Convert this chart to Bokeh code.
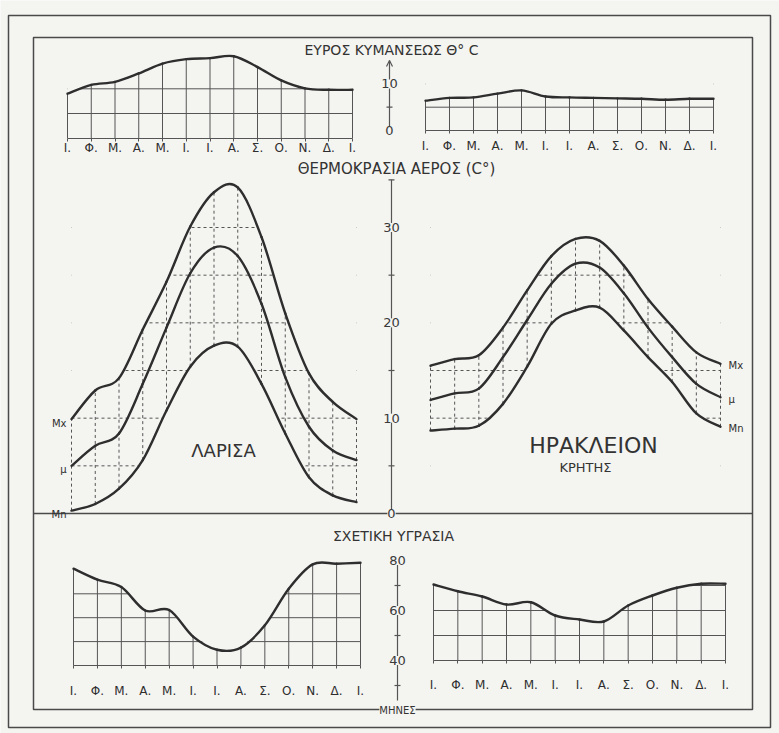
from bokeh.plotting import figure
from bokeh.models import Range1d, LinearAxis, FixedTicker, ColumnDataSource, Arrow, OpenHead
from bokeh.core.properties import value
from bokeh.embed import file_html
from bokeh.resources import INLINE

# ---------------- data ----------------
MONTHS = ["Ι.", "Φ.", "Μ.", "Α.", "Μ.", "Ι.", "Ι.", "Α.", "Σ.", "Ο.", "Ν.", "Δ.", "Ι."]
MONTH_POS = list(range(13))

RANGE_LARISA = [9.0, 10.8, 11.4, 13.1, 15.1, 16.0, 16.2, 16.6, 14.4, 11.7, 10.1, 9.8, 9.8]
RANGE_HERAKLION = [6.4, 7.0, 7.1, 7.9, 8.6, 7.3, 7.1, 7.0, 6.9, 6.8, 6.6, 6.8, 6.8]

TMAX_LARISA = [9.9, 12.9, 14.2, 19.3, 24.3, 30.1, 33.7, 34.2, 29.0, 21.0, 14.7, 11.7, 9.9]
TMEAN_LARISA = [5.0, 7.1, 8.4, 13.6, 19.5, 25.2, 27.9, 27.0, 22.0, 14.3, 9.1, 6.6, 5.6]
TMIN_LARISA = [0.3, 1.0, 2.6, 5.6, 10.8, 15.4, 17.6, 17.5, 13.6, 8.4, 3.8, 1.9, 1.2]

TMAX_HERAKLION = [15.5, 16.2, 16.6, 19.5, 23.4, 27.0, 28.8, 28.6, 26.0, 22.5, 19.6, 16.9, 15.7]
TMEAN_HERAKLION = [11.9, 12.6, 13.1, 16.4, 20.3, 24.1, 26.2, 25.8, 23.1, 19.5, 16.4, 13.6, 12.2]
TMIN_HERAKLION = [8.7, 8.9, 9.2, 11.5, 15.4, 19.9, 21.3, 21.6, 19.2, 16.4, 13.8, 10.5, 9.1]

HUM_LARISA = [80.5, 75.9, 72.8, 63.0, 63.2, 52.1, 46.6, 47.5, 56.8, 72.1, 82.3, 82.6, 83.0]
HUM_HERAKLION = [70.4, 67.7, 65.6, 62.4, 63.3, 58.0, 56.4, 55.6, 62.0, 66.0, 69.1, 70.7, 70.7]

RANGE_GRID = [5, 10]
TEMP_GRID = [5, 10, 15, 20, 25, 30]
HUM_GRID = [50, 60, 70]

RANGE_AXIS_LABELS = [0, 10]
RANGE_AXIS_TICKS = [5]
TEMP_AXIS_LABELS = [0, 10, 20, 30]
TEMP_AXIS_TICKS = [5, 15, 25, 35]
HUM_AXIS_LABELS = [40, 60, 80]
HUM_AXIS_TICKS = [30, 50, 70]

TITLE_RANGE = "ΕΥΡΟΣ ΚΥΜΑΝΣΕΩΣ Θ° C"
TITLE_TEMP = "ΘΕΡΜΟΚΡΑΣΙΑ ΑΕΡΟΣ (C°)"
TITLE_HUM = "ΣΧΕΤΙΚΗ ΥΓΡΑΣΙΑ"
TITLE_MONTHS = "ΜΗΝΕΣ"
STATION_A = "ΛΑΡΙΣΑ"
STATION_B = "ΗΡΑΚΛΕΙΟΝ"
STATION_B2 = "ΚΡΗΤΗΣ"
SERIES_TAGS = ["Mx", "μ", "Mn"]

# ---------------- layout / style ----------------
W, H = 779, 733
PX0, PX1 = 0, W
PY0, PY1 = 0, H
BG = "#f4f4f1"
INK = "#2e2e2e"
GRIDC = "#555555"
FONT = "DejaVu Sans"


def span(d0, d1, p0, p1, a, b):
    k = (d1 - d0) / (p1 - p0)
    return Range1d(start=d0 + (a - p0) * k, end=d0 + (b - p0) * k)


def xr(p0, p1):
    return span(0, 12, p0, p1, PX0, PX1)


def yr(d0, p0, d1, p1):
    return span(d0, d1, p0, p1, PY1, PY0)


p = figure(width=W, height=H, x_range=Range1d(PX0, PX1), y_range=Range1d(PY1, PY0),
           x_axis_type=None, y_axis_type=None, toolbar_location=None,
           output_backend="svg", min_border=0, outline_line_color=None,
           background_fill_color=BG, border_fill_color=BG)

p.extra_x_ranges = {
    "rl": xr(67, 352), "rr": xr(425, 713),
    "tl": xr(71, 356), "tr": xr(430, 720),
    "hl": xr(73, 360), "hr": xr(433, 725),
}
p.extra_y_ranges = {
    "rly": yr(0, 137.7, 10, 88.3), "rry": yr(0, 130, 10, 83.4),
    "t": yr(0, 513, 30, 227),
    "hly": yr(40, 665, 70, 593.3), "hry": yr(40, 660, 60, 610),
}

# frames
p.quad(left=[8], right=[770], top=[15], bottom=[727], fill_color=None,
       line_color="#4a4a4a", line_width=1.5)
p.quad(left=[33], right=[752], top=[37], bottom=[709], fill_color=None,
       line_color="#4a4a4a", line_width=1.5)


def smooth_line(xn, yn, xs, ys):
    """Draw a smooth curve through the data points (Catmull-Rom as cubic Beziers)."""
    n = len(xs)

    def pt(i):
        i = min(max(i, 0), n - 1)
        return xs[i], ys[i]

    d = dict(x0=[], y0=[], x1=[], y1=[], cx0=[], cy0=[], cx1=[], cy1=[])
    for i in range(n - 1):
        a, b, c, e = pt(i - 1), pt(i), pt(i + 1), pt(i + 2)
        d["x0"].append(b[0]); d["y0"].append(b[1])
        d["x1"].append(c[0]); d["y1"].append(c[1])
        d["cx0"].append(b[0] + (c[0] - a[0]) / 6); d["cy0"].append(b[1] + (c[1] - a[1]) / 6)
        d["cx1"].append(c[0] - (e[0] - b[0]) / 6); d["cy1"].append(c[1] - (e[1] - b[1]) / 6)
    p.bezier(x0="x0", y0="y0", x1="x1", y1="y1", cx0="cx0", cy0="cy0", cx1="cx1", cy1="cy1",
             source=ColumnDataSource(d), line_color=INK, line_width=2.4, line_cap="round",
             x_range_name=xn, y_range_name=yn)


def grid_chart(xn, yn, vals, base, levels, cover_top, standoff):
    src = ColumnDataSource(dict(m=MONTH_POS, v=vals))
    kw = dict(x_range_name=xn, y_range_name=yn)
    p.segment(x0=[0] * len(levels), x1=[12] * len(levels), y0=levels, y1=levels,
              line_color=GRIDC, line_width=1, **kw)
    p.segment(x0="m", x1="m", y0=base, y1="v", source=src,
              line_color=GRIDC, line_width=1, **kw)
    p.varea(x="m", y1="v", y2=cover_top, source=src, fill_color=BG, **kw)
    smooth_line(xn, yn, MONTH_POS, vals)
    ax = LinearAxis(x_range_name=xn, y_range_name=yn, fixed_location=base,
                    bounds=(0, 12),
                    ticker=FixedTicker(ticks=MONTH_POS, minor_ticks=[]),
                    major_label_overrides={i: lab for i, lab in enumerate(MONTHS)},
                    axis_line_color=GRIDC, axis_line_width=1.2,
                    major_tick_line_color=GRIDC, major_tick_in=0, major_tick_out=3,
                    minor_tick_out=0, minor_tick_in=0,
                    major_label_standoff=standoff,
                    major_label_text_font=FONT,
                    major_label_text_font_size="12px",
                    major_label_text_color=INK)
    p.add_layout(ax, "below")


grid_chart("rl", "rly", RANGE_LARISA, 0, RANGE_GRID, 17.2, 0)
grid_chart("rr", "rry", RANGE_HERAKLION, 0, RANGE_GRID, 11.0, 5)
grid_chart("hl", "hly", HUM_LARISA, 40, HUM_GRID, 84.5, 15)
grid_chart("hr", "hry", HUM_HERAKLION, 40, HUM_GRID, 74.0, 14)


def temp_chart(xn, mx, mu, mn, cover_top):
    src = ColumnDataSource(dict(m=MONTH_POS, mx=mx, mu=mu, mn=mn))
    kw = dict(x_range_name=xn, y_range_name="t")
    p.segment(x0=[0] * len(TEMP_GRID), x1=[12] * len(TEMP_GRID), y0=TEMP_GRID, y1=TEMP_GRID,
              line_color=GRIDC, line_width=1, line_dash="3 3", **kw)
    p.segment(x0="m", x1="m", y0="mn", y1="mx", source=src,
              line_color=GRIDC, line_width=1, line_dash="3 3", **kw)
    p.varea(x="m", y1="mx", y2=cover_top, source=src, fill_color=BG, **kw)
    p.varea(x="m", y1=0, y2="mn", source=src, fill_color=BG, **kw)
    for series in (mx, mu, mn):
        smooth_line(xn, "t", MONTH_POS, series)


temp_chart("tl", TMAX_LARISA, TMEAN_LARISA, TMIN_LARISA, 35.5)
temp_chart("tr", TMAX_HERAKLION, TMEAN_HERAKLION, TMIN_HERAKLION, 31.5)

# temperature baseline / separator
p.segment(x0=[33], x1=[752], y0=[0], y1=[0], y_range_name="t",
          line_color="#4a4a4a", line_width=1.5)

# series tags
p.text(x=[0] * 3, y=[TMAX_LARISA[0], TMEAN_LARISA[0], TMIN_LARISA[0]], text=SERIES_TAGS,
       x_range_name="tl", y_range_name="t", x_offset=-5, y_offset=4,
       text_align="right", text_baseline="middle", text_font=value(FONT),
       text_font_size="10px", text_color=INK)
p.text(x=[12] * 3, y=[TMAX_HERAKLION[12], TMEAN_HERAKLION[12], TMIN_HERAKLION[12]],
       text=SERIES_TAGS, x_range_name="tr", y_range_name="t", x_offset=8, y_offset=2,
       text_align="left", text_baseline="middle", text_font=value(FONT),
       text_font_size="10px", text_color=INK)


def center_axis(xpage, yn, lo, hi, labels, ticks):
    kw = dict(y_range_name=yn)
    p.segment(x0=[xpage], x1=[xpage], y0=[lo], y1=[hi], line_color=GRIDC,
              line_width=1.2, **kw)
    p.segment(x0=[xpage - 3] * len(ticks), x1=[xpage + 3] * len(ticks), y0=ticks, y1=ticks,
              line_color=GRIDC, line_width=1.2, **kw)
    p.text(x=[xpage] * len(labels), y=labels, text=[str(v) for v in labels],
           text_align="center", text_baseline="middle", text_font=value(FONT),
           text_font_size="13px", text_color="#3a3a3a",
           background_fill_color=BG, **kw)


center_axis(389, "rry", 0, 15.0, RANGE_AXIS_LABELS, RANGE_AXIS_TICKS)
p.add_layout(Arrow(end=OpenHead(size=6, line_color=GRIDC, line_width=1.2),
                   x_start=389, y_start=14.0, x_end=389, y_end=15.0,
                   y_range_name="rry", line_alpha=0))
center_axis(391, "t", 0, 35.0, TEMP_AXIS_LABELS, TEMP_AXIS_TICKS)
center_axis(397, "hry", 24, 80, HUM_AXIS_LABELS, HUM_AXIS_TICKS)


# titles and names
def label(x, y, txt, size, bg=None):
    extra = {} if bg is None else dict(background_fill_color=bg)
    p.text(x=[x], y=[y], text=[txt], text_align="center", text_baseline="middle",
           text_font=value(FONT), text_font_size=size, text_color="#333333", **extra)


label(391, 49, TITLE_RANGE, "14px")
label(396, 168, TITLE_TEMP, "15px")
label(393, 535, TITLE_HUM, "14px")
label(397, 710, TITLE_MONTHS, "10px", bg=BG)
label(223, 450, STATION_A, "18px")
label(593, 445, STATION_B, "22px")
label(585, 467, STATION_B2, "13px")

open("out.html", "w").write(file_html(p, INLINE))
